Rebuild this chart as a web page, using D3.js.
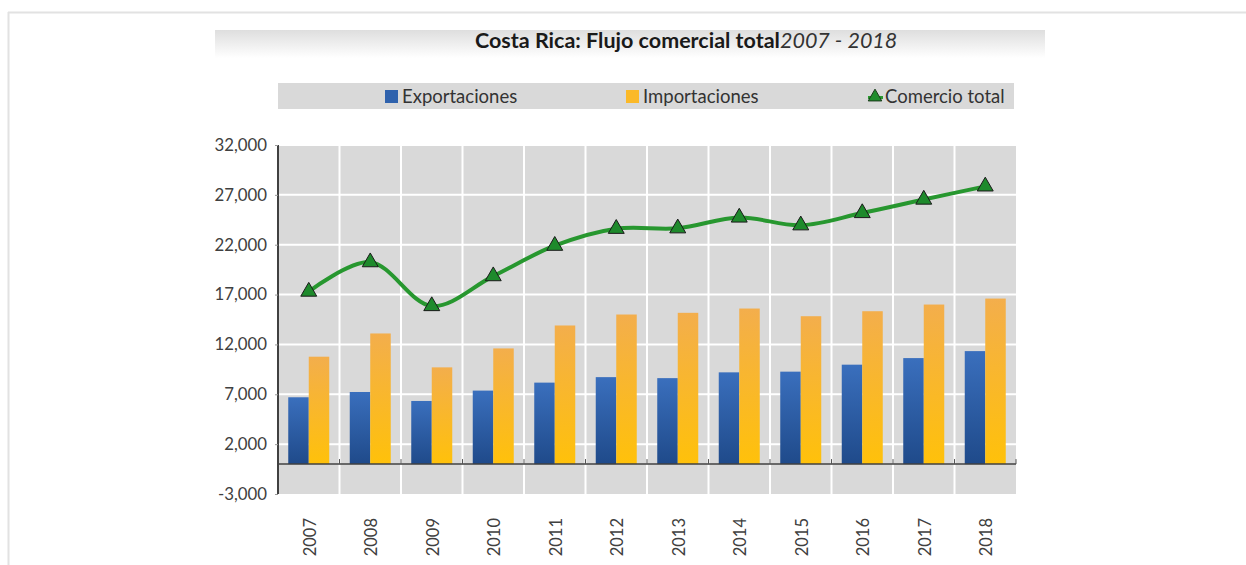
<!DOCTYPE html>
<html>
<head>
<meta charset="utf-8">
<script src="https://cdn.jsdelivr.net/npm/d3@7"></script>
<style>
  body { margin: 0; background: #fff; }
  svg { display: block; font-family: Lato, "Open Sans", sans-serif; }
</style>
</head>
<body>
<div id="container"></div>
<script>
// Chart data (millones de US$ aprox.)
const years = ["2007", "2008", "2009", "2010", "2011", "2012", "2013", "2014", "2015", "2016", "2017", "2018"];
const exportaciones = [6700, 7230, 6330, 7370, 8170, 8720, 8620, 9200, 9270, 9970, 10630, 11330];
const importaciones = [10770, 13100, 9700, 11600, 13900, 15000, 15170, 15600, 14830, 15330, 16000, 16600];
const comercioTotal = [17300, 20250, 15850, 18850, 21900, 23600, 23650, 24730, 23950, 25180, 26530, 27850];
const yTicks = [-3000, 2000, 7000, 12000, 17000, 22000, 27000, 32000];
const seriesNames = ["Exportaciones", "Importaciones", "Comercio total"];

// Chart dimensions
const width = 1246;
const height = 565;
const marginTop = 145;
const marginRight = 230;
const marginBottom = 71;
const marginLeft = 278;

const svg = d3.select("#container").append("svg")
    .attr("width", width)
    .attr("height", height)
    .attr("viewBox", [0, 0, width, height]);

const defs = svg.append("defs");

const gradBlue = defs.append("linearGradient")
    .attr("id", "gBlue").attr("x1", 0).attr("y1", 0).attr("x2", 0).attr("y2", 1);
gradBlue.append("stop").attr("offset", "0%").attr("stop-color", "#3a6fbd");
gradBlue.append("stop").attr("offset", "100%").attr("stop-color", "#1f4a8a");

const gradOrange = defs.append("linearGradient")
    .attr("id", "gOrange").attr("x1", 0).attr("y1", 0).attr("x2", 0).attr("y2", 1);
gradOrange.append("stop").attr("offset", "0%").attr("stop-color", "#f3ae4c");
gradOrange.append("stop").attr("offset", "100%").attr("stop-color", "#ffc10a");

const gradTitle = defs.append("linearGradient")
    .attr("id", "gTitle").attr("x1", 0).attr("y1", 0).attr("x2", 0).attr("y2", 1);
gradTitle.append("stop").attr("offset", "0%").attr("stop-color", "#dedede");
gradTitle.append("stop").attr("offset", "100%").attr("stop-color", "#ffffff");

// page frame lines
svg.append("line").attr("x1", 8).attr("x2", width).attr("y1", 12.5).attr("y2", 12.5)
    .attr("stroke", "#e2e2e2").attr("stroke-width", 2);
svg.append("line").attr("x1", 8.5).attr("x2", 8.5).attr("y1", 12).attr("y2", height)
    .attr("stroke", "#e2e2e2").attr("stroke-width", 2);

// Scales
const x = d3.scaleBand()
    .domain(years)
    .range([marginLeft, width - marginRight])
    .paddingInner(1 / 3)
    .paddingOuter(1 / 6);

const xSub = d3.scaleBand()
    .domain(["exp", "imp"])
    .range([0, x.bandwidth()]);

const y = d3.scaleLinear()
    .domain([-3000, 32000])
    .range([height - marginBottom, marginTop]);

const step = x.step();
const plotLeft = marginLeft;
const plotRight = width - marginRight;

// Title band
svg.append("rect")
    .attr("x", 215).attr("y", 30).attr("width", 830).attr("height", 28)
    .attr("fill", "url(#gTitle)");

const title = svg.append("text")
    .attr("x", 475)
    .attr("y", 48)
    .attr("fill", "#1a1a1a")
    .style("font-size", "21.5px");
title.append("tspan").attr("font-weight", "bold").text("Costa Rica: Flujo comercial total");
title.append("tspan").attr("font-style", "italic").attr("fill", "#333").text("2007 - 2018");

// Legend band
svg.append("rect")
    .attr("x", plotLeft).attr("y", 83).attr("width", plotRight - plotLeft - 2).attr("height", 26)
    .attr("fill", "#d9d9d9");

const legend = svg.append("g").style("font-size", "18.5px").attr("fill", "#333");
const legendX = [385, 626, 868];
legend.append("rect").attr("x", legendX[0]).attr("y", 90).attr("width", 13).attr("height", 13)
    .attr("fill", "#2f62ad");
legend.append("rect").attr("x", legendX[1]).attr("y", 90).attr("width", 13).attr("height", 13)
    .attr("fill", "#fbb928");
legend.append("path")
    .attr("d", `M${legendX[2]},97.5H${legendX[2] + 15}`)
    .attr("stroke", "#2a9a30").attr("stroke-width", 3);
legend.append("path")
    .attr("transform", `translate(${legendX[2] + 7},97)`)
    .attr("d", d3.symbol(d3.symbolTriangle, 80))
    .attr("fill", "#1f8c2c").attr("stroke", "#1a3a1a").attr("stroke-width", 1);
seriesNames.forEach((name, i) => {
    legend.append("text")
        .attr("x", legendX[i] + 17)
        .attr("y", 103)
        .text(name);
});

// Plot area
svg.append("rect")
    .attr("x", plotLeft).attr("y", marginTop)
    .attr("width", plotRight - plotLeft).attr("height", y(-3000) - marginTop)
    .attr("fill", "#d9d9d9");

// Horizontal grid
svg.append("g")
    .selectAll("line")
    .data(yTicks.slice(1))
    .join("line")
    .attr("x1", plotLeft).attr("x2", plotRight)
    .attr("y1", d => y(d)).attr("y2", d => y(d))
    .attr("stroke", "#fff").attr("stroke-width", 2);

// Vertical grid at category boundaries
svg.append("g")
    .selectAll("line")
    .data(years.slice(1))
    .join("line")
    .attr("x1", (d, i) => plotLeft + (i + 1) * step)
    .attr("x2", (d, i) => plotLeft + (i + 1) * step)
    .attr("y1", marginTop).attr("y2", y(-3000))
    .attr("stroke", "#fff").attr("stroke-width", 2);

// Bars
const bars = svg.append("g");
bars.selectAll(".exp")
    .data(years)
    .join("rect")
    .attr("class", "exp")
    .attr("x", d => x(d) + xSub("exp"))
    .attr("y", (d, i) => y(exportaciones[i]))
    .attr("width", xSub.bandwidth())
    .attr("height", (d, i) => y(0) - y(exportaciones[i]))
    .attr("fill", "url(#gBlue)");
bars.selectAll(".imp")
    .data(years)
    .join("rect")
    .attr("class", "imp")
    .attr("x", d => x(d) + xSub("imp"))
    .attr("y", (d, i) => y(importaciones[i]))
    .attr("width", xSub.bandwidth())
    .attr("height", (d, i) => y(0) - y(importaciones[i]))
    .attr("fill", "url(#gOrange)");

// Zero baseline with category tick marks
svg.append("line")
    .attr("x1", plotLeft).attr("x2", plotRight)
    .attr("y1", y(0)).attr("y2", y(0))
    .attr("stroke", "#404040").attr("stroke-width", 1.5);
svg.append("g")
    .selectAll("line")
    .data(d3.range(years.length + 1))
    .join("line")
    .attr("x1", i => plotLeft + i * step).attr("x2", i => plotLeft + i * step)
    .attr("y1", y(0) - 5).attr("y2", y(0))
    .attr("stroke", "#555").attr("stroke-width", 1);

// Y axis (plain hyphen for negatives, like the original)
const fmt = d3.format(",");
svg.append("g")
    .attr("transform", `translate(${plotLeft},0)`)
    .call(d3.axisLeft(y).tickValues(yTicks).tickSize(3).tickPadding(8)
        .tickFormat(d => fmt(d).replace("−", "-")))
    .call(g => g.select(".domain").attr("stroke", "#404040").attr("stroke-width", 2)
        .attr("d", `M0,${marginTop}V${y(-3000)}`))
    .call(g => g.selectAll(".tick line").attr("stroke", "#999"))
    .call(g => g.selectAll(".tick text")
        .attr("fill", "#404040")
        .style("font-size", "16.8px")
        .style("font-family", "Lato, sans-serif"));

// X axis labels (rotated)
svg.append("g")
    .selectAll("text")
    .data(years)
    .join("text")
    .attr("transform", d => `translate(${x(d) + x.bandwidth() / 2 + 1},518) rotate(-90)`)
    .attr("text-anchor", "end")
    .attr("dy", "0.35em")
    .attr("fill", "#404040")
    .style("font-size", "16.5px")
    .text(d => d);

// Comercio total line
const line = d3.line()
    .x((d, i) => x(years[i]) + x.bandwidth() / 2)
    .y(d => y(d))
    .curve(d3.curveCatmullRom.alpha(0.5));

svg.append("path")
    .datum(comercioTotal)
    .attr("fill", "none")
    .attr("stroke", "#27972f")
    .attr("stroke-width", 4)
    .attr("d", line);

svg.append("g")
    .selectAll("path")
    .data(comercioTotal)
    .join("path")
    .attr("transform", (d, i) => `translate(${x(years[i]) + x.bandwidth() / 2},${y(d)})`)
    .attr("d", d3.symbol(d3.symbolTriangle, 110))
    .attr("fill", "#1e8a2c")
    .attr("stroke", "#1a1a1a")
    .attr("stroke-width", 1);
</script>
</body>
</html>
